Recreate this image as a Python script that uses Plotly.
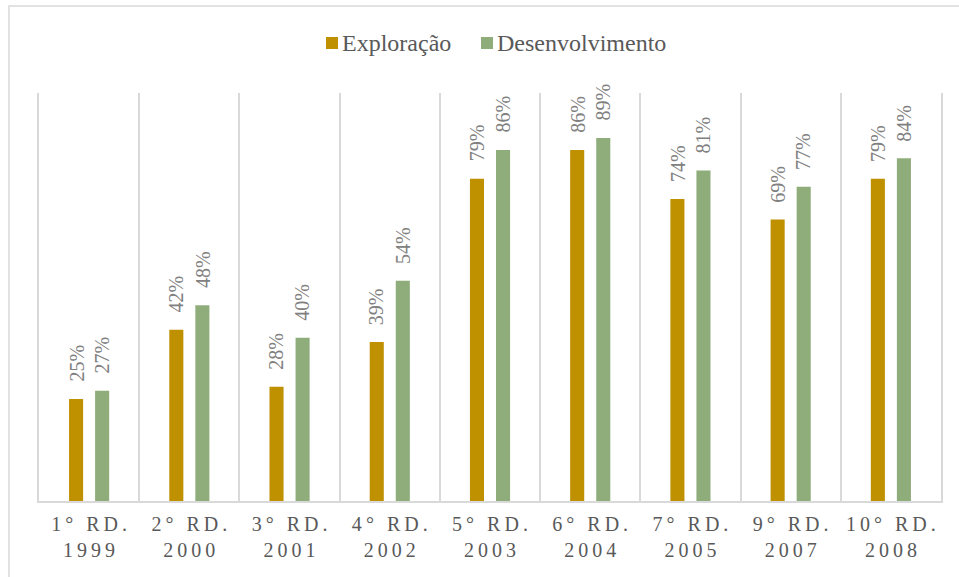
import plotly.graph_objects as go

# Licitation rounds (ANP) and the share of blocks per phase
rounds = ["1° RD.", "2° RD.", "3° RD.", "4° RD.", "5° RD.", "6° RD.", "7° RD.", "9° RD.", "10° RD."]
years = ["1999", "2000", "2001", "2002", "2003", "2004", "2005", "2007", "2008"]
exploracao = [25, 42, 28, 39, 79, 86, 74, 69, 79]
desenvolvimento = [27, 48, 40, 54, 86, 89, 81, 77, 84]
series_names = ["Exploração", "Desenvolvimento"]

COL_EXP = "#BF9000"
COL_DES = "#8EAD7A"
GRID = "#D9D9D9"
TXT = "#595959"
LBL = "#808080"
FONT = "Liberation Serif"

W, H = 959, 577
ML, MR, MT, MB = 39, 18, 93, 76
PW, PH = W - ML - MR, H - MT - MB


def spaced(s):
    # widen the tracking of the axis labels with thin spaces
    return "\u2009".join(s)


categories = [spaced(r) + "<br>" + spaced(y) for r, y in zip(rounds, years)]

fig = go.Figure()
fig.add_trace(go.Bar(x=categories, y=[v / 100 for v in exploracao], name=series_names[0],
                     marker=dict(color=COL_EXP, line=dict(width=0)), showlegend=False))
fig.add_trace(go.Bar(x=categories, y=[v / 100 for v in desenvolvimento], name=series_names[1],
                     marker=dict(color=COL_DES, line=dict(width=0)), showlegend=False))

annotations = []
for vals, dx in ((exploracao, -13), (desenvolvimento, 13)):
    for c, v in zip(categories, vals):
        annotations.append(dict(x=c, y=v / 100, xref="x", yref="y", text=f"{v}%",
                                showarrow=False, textangle=-90, xshift=dx, yshift=15,
                                yanchor="bottom", xanchor="center",
                                font=dict(family=FONT, size=20, color=LBL)))


def px_x(p):
    return (p - ML) / PW


def px_y(p):
    return (H - MB - p) / PH


# legend drawn as swatches plus labels along the top
shapes = []
legend_items = [(COL_EXP, series_names[0], 326), (COL_DES, series_names[1], 481)]
for col, name, x0 in legend_items:
    shapes.append(dict(type="rect", xref="paper", yref="paper",
                       x0=px_x(x0), x1=px_x(x0 + 12), y0=px_y(49), y1=px_y(37),
                       fillcolor=col, line=dict(width=0)))
    annotations.append(dict(x=px_x(x0 + 14), y=px_y(43), xref="paper", yref="paper",
                            text=name, showarrow=False, xanchor="left", yanchor="middle",
                            font=dict(family=FONT, size=24, color=TXT)))

# outer chart frame
shapes.append(dict(type="rect", xref="paper", yref="paper", layer="below",
                   x0=px_x(9), x1=px_x(975), y0=px_y(590), y1=px_y(6),
                   line=dict(color=GRID, width=1.5), fillcolor="rgba(0,0,0,0)"))

fig.update_layout(
    width=W, height=H,
    margin=dict(l=ML, r=MR, t=MT, b=MB),
    paper_bgcolor="white", plot_bgcolor="white",
    barmode="group", bargap=0.48, bargroupgap=0.46,
    annotations=annotations, shapes=shapes,
    font=dict(family=FONT, color=TXT),
    xaxis=dict(type="category", tickson="boundaries", showgrid=True, gridcolor=GRID,
               gridwidth=1.5, showline=True, linecolor=GRID, linewidth=1.5,
               ticks="", tickfont=dict(family=FONT, size=20, color=TXT),
               ticklabelstandoff=4),
    yaxis=dict(range=[0, 1], showgrid=False, zeroline=False, showticklabels=False,
               ticks="", showline=True, mirror=True, linecolor=GRID, linewidth=1.5),
)

fig.write_html("out.html")
